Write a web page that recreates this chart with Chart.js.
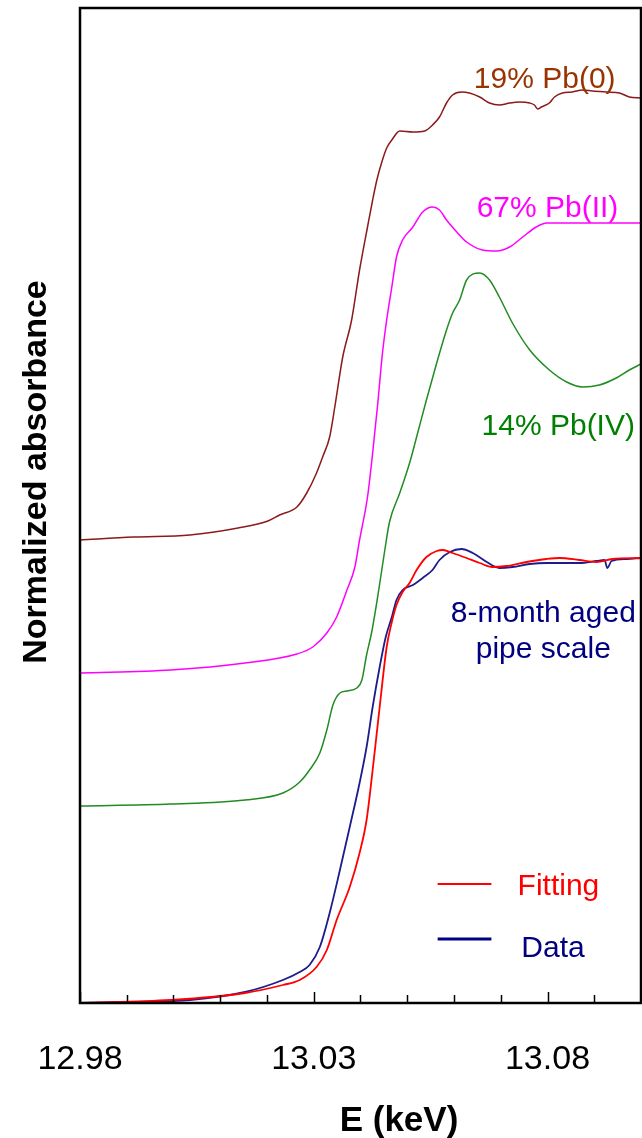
<!DOCTYPE html>
<html>
<head>
<meta charset="utf-8">
<script src="https://cdn.jsdelivr.net/npm/chart.js@4.4.1/dist/chart.umd.min.js"></script>
<style>
  html, body { margin: 0; padding: 0; background: #fff; }
  #wrap { width: 642px; height: 1138px; position: relative; }
</style>
</head>
<body>
<div id="wrap"><canvas id="c" width="642" height="1138"></canvas></div>
<script>
// ---- DATA (E in keV, normalized absorbance with vertical offsets) ----
const pb0 = [[12.9800,1.852],[12.9915,1.864],[13.0035,1.872],[13.0138,1.900],[13.0202,1.928],[13.0227,1.952],[13.0264,1.984],[13.0285,2.040],[13.0306,2.120],[13.0319,2.184],[13.0334,2.264],[13.0345,2.384],[13.0362,2.584],[13.0381,2.732],[13.0398,2.932],[13.0415,3.104],[13.0426,3.212],[13.0435,3.292],[13.0445,3.360],[13.0456,3.420],[13.0467,3.452],[13.0484,3.488],[13.0512,3.484],[13.0537,3.488],[13.0554,3.512],[13.0569,3.544],[13.0584,3.600],[13.0597,3.632],[13.0616,3.644],[13.0633,3.640],[13.0655,3.624],[13.0676,3.600],[13.0697,3.592],[13.0719,3.600],[13.0740,3.604],[13.0762,3.600],[13.0772,3.592],[13.0779,3.576],[13.0787,3.584],[13.0804,3.600],[13.0815,3.624],[13.0832,3.640],[13.0853,3.644],[13.0875,3.652],[13.0896,3.648],[13.0926,3.644],[13.0954,3.640],[13.0975,3.624],[13.1000,3.620]];
const pb2 = [[12.9800,1.320],[12.9994,1.332],[13.0153,1.360],[13.0264,1.396],[13.0298,1.424],[13.0328,1.480],[13.0349,1.544],[13.0371,1.652],[13.0388,1.744],[13.0398,1.852],[13.0415,2.024],[13.0426,2.200],[13.0437,2.400],[13.0447,2.600],[13.0456,2.732],[13.0467,2.864],[13.0477,2.984],[13.0490,3.052],[13.0512,3.104],[13.0533,3.164],[13.0554,3.184],[13.0569,3.172],[13.0584,3.132],[13.0606,3.084],[13.0627,3.044],[13.0661,3.012],[13.0691,3.008],[13.0719,3.024],[13.0747,3.064],[13.0776,3.104],[13.0798,3.120],[13.0853,3.120],[13.0926,3.120],[13.1000,3.120]];
const pb4 = [[12.9800,0.788],[12.9994,0.796],[13.0153,0.812],[13.0234,0.840],[13.0270,0.884],[13.0291,0.932],[13.0313,1.000],[13.0328,1.092],[13.0341,1.192],[13.0356,1.240],[13.0371,1.248],[13.0392,1.260],[13.0403,1.292],[13.0413,1.392],[13.0424,1.484],[13.0439,1.652],[13.0452,1.812],[13.0462,1.924],[13.0484,2.040],[13.0505,2.160],[13.0520,2.264],[13.0541,2.412],[13.0563,2.560],[13.0584,2.692],[13.0597,2.760],[13.0612,2.812],[13.0627,2.892],[13.0655,2.920],[13.0676,2.892],[13.0697,2.824],[13.0725,2.720],[13.0762,2.612],[13.0804,2.532],[13.0841,2.484],[13.0875,2.464],[13.0911,2.472],[13.0947,2.500],[13.0975,2.532],[13.1000,2.556]];
const sampleData = [[12.9800,0.000],[12.9915,0.004],[13.0035,0.012],[13.0153,0.044],[13.0234,0.092],[13.0270,0.124],[13.0291,0.152],[13.0313,0.224],[13.0334,0.360],[13.0356,0.532],[13.0377,0.704],[13.0398,0.880],[13.0413,1.024],[13.0426,1.184],[13.0441,1.344],[13.0454,1.464],[13.0467,1.544],[13.0477,1.612],[13.0490,1.652],[13.0512,1.672],[13.0533,1.700],[13.0554,1.732],[13.0569,1.772],[13.0591,1.804],[13.0616,1.816],[13.0640,1.800],[13.0670,1.764],[13.0697,1.740],[13.0725,1.744],[13.0762,1.756],[13.0798,1.760],[13.0832,1.760],[13.0868,1.760],[13.0905,1.768],[13.0922,1.772],[13.0928,1.740],[13.0937,1.768],[13.0969,1.776],[13.1000,1.780]];
const fitting = [[12.9800,0.000],[12.9994,0.012],[13.0153,0.040],[13.0234,0.072],[13.0270,0.092],[13.0306,0.144],[13.0328,0.212],[13.0349,0.332],[13.0377,0.464],[13.0398,0.600],[13.0413,0.732],[13.0426,0.932],[13.0441,1.184],[13.0456,1.424],[13.0467,1.524],[13.0477,1.592],[13.0490,1.644],[13.0505,1.680],[13.0520,1.732],[13.0541,1.784],[13.0563,1.808],[13.0576,1.812],[13.0597,1.800],[13.0627,1.780],[13.0655,1.760],[13.0682,1.744],[13.0712,1.748],[13.0755,1.764],[13.0798,1.776],[13.0826,1.780],[13.0868,1.772],[13.0905,1.764],[13.0939,1.776],[13.1000,1.780]];

const tickValues = [12.98, 13.03, 13.08];
const tickLabels = ['12.98', '13.03', '13.08'];

const seriesNames = ['19% Pb(0)', '67% Pb(II)', '14% Pb(IV)', 'Data', 'Fitting'];
const sampleLabel = ['8-month aged', 'pipe scale'];

// ---- chart ----
const toXY = arr => arr.map(p => ({x: p[0], y: p[1]}));
const FONT = '"Liberation Sans", Arial, sans-serif';

const overlay = {
  id: 'overlay',
  afterDraw(chart) {
    const ctx = chart.ctx, a = chart.chartArea;
    const xs = chart.scales.x, ys = chart.scales.y;
    const X = v => xs.getPixelForValue(v), Y = v => ys.getPixelForValue(v);
    ctx.save();
    // tick marks (inward)
    ctx.strokeStyle = '#000';
    ctx.lineWidth = 1.5;
    xs.ticks.forEach(t => {
      const major = tickValues.some(v => Math.abs(v - t.value) < 1e-6);
      const px = Math.round(X(t.value)) + 0.5;
      ctx.beginPath();
      ctx.moveTo(px, a.bottom);
      ctx.lineTo(px, a.bottom - (major ? 11 : 8));
      ctx.stroke();
    });
    // frame
    ctx.lineWidth = 2.5;
    ctx.strokeRect(a.left, a.top, a.right - a.left, a.bottom - a.top);

    // series labels
    ctx.font = '30px ' + FONT;
    ctx.textAlign = 'center';
    ctx.textBaseline = 'alphabetic';
    ctx.fillStyle = '#993300';
    ctx.fillText(seriesNames[0], X(13.0794), Y(3.66));
    ctx.fillStyle = '#ff00ff';
    ctx.fillText(seriesNames[1], X(13.0800), Y(3.144));
    ctx.fillStyle = '#008000';
    ctx.fillText(seriesNames[2], X(13.0823), Y(2.272));
    ctx.fillStyle = '#000080';
    ctx.fillText(sampleLabel[0], X(13.0791), Y(1.524));
    ctx.fillText(sampleLabel[1], X(13.0791), Y(1.380));

    // legend
    ctx.lineWidth = 2;
    ctx.strokeStyle = '#ff0000';
    ctx.beginPath(); ctx.moveTo(X(13.0565), Y(0.476)); ctx.lineTo(X(13.0680), Y(0.476)); ctx.stroke();
    ctx.lineWidth = 3;
    ctx.strokeStyle = '#000080';
    ctx.beginPath(); ctx.moveTo(X(13.0565), Y(0.256)); ctx.lineTo(X(13.0680), Y(0.256)); ctx.stroke();
    ctx.textAlign = 'left';
    ctx.fillStyle = '#ff0000';
    ctx.fillText(seriesNames[4], X(13.0736), Y(0.432));
    ctx.fillStyle = '#000080';
    ctx.fillText(seriesNames[3], X(13.0744), Y(0.184));

    // axis titles
    ctx.fillStyle = '#000';
    ctx.font = 'bold 35px ' + FONT;
    ctx.textAlign = 'center';
    ctx.fillText('E (keV)', 399, 1131);
    ctx.save();
    ctx.translate(46, 472);
    ctx.rotate(-Math.PI / 2);
    ctx.font = 'bold 34px ' + FONT;
    ctx.fillText('Normalized absorbance', 0, 0);
    ctx.restore();
    ctx.restore();
  }
};

const ds = (label, arr, color, w, order) => ({
  label, data: toXY(arr), borderColor: color, borderWidth: w,
  pointRadius: 0, fill: false, tension: 0, cubicInterpolationMode: 'monotone', order
});

new Chart(document.getElementById('c'), {
  type: 'line',
  data: {
    datasets: [
      ds(seriesNames[0], pb0, '#8b1a1a', 1.5, 3),
      ds(seriesNames[1], pb2, '#ff00ff', 1.5, 3),
      ds(seriesNames[2], pb4, '#228b22', 1.5, 3),
      ds(seriesNames[3], sampleData, '#1c1c8c', 1.8, 2),
      ds(seriesNames[4], fitting, '#ff0000', 1.8, 1)
    ]
  },
  options: {
    responsive: false,
    animation: false,
    layout: { autoPadding: false, padding: { top: 8, right: 1, left: 0, bottom: 0 } },
    plugins: { legend: { display: false }, tooltip: { enabled: false } },
    scales: {
      x: {
        type: 'linear', min: 12.98, max: 13.10,
        grid: { display: false, drawTicks: false },
        border: { display: false },
        ticks: {
          stepSize: 0.01, autoSkip: false, maxRotation: 0,
          padding: 36, color: '#000',
          font: { size: 34, family: FONT },
          callback: (v) => {
            const i = tickValues.findIndex(t => Math.abs(t - v) < 1e-6);
            return i >= 0 ? tickLabels[i] : '';
          }
        },
        afterFit: s => { s.height = 135; s.paddingLeft = 0; s.paddingRight = 0; }
      },
      y: {
        type: 'linear', min: 0, max: 3.98,
        grid: { display: false, drawTicks: false },
        border: { display: false },
        ticks: { display: false },
        afterFit: s => { s.width = 80; }
      }
    }
  },
  plugins: [overlay]
});
</script>
</body>
</html>
